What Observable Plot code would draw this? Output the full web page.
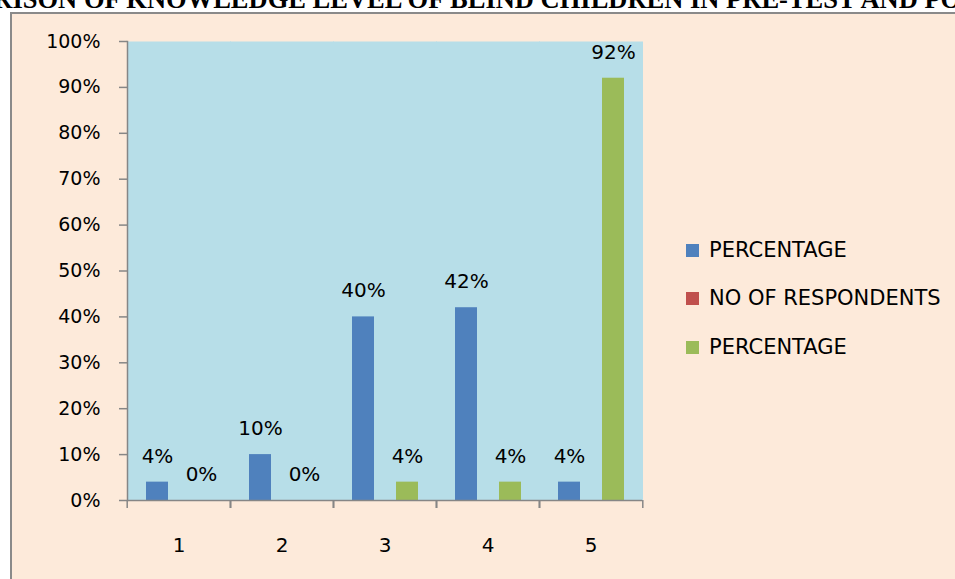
<!DOCTYPE html>
<html>
<head>
<meta charset="utf-8">
<script src="https://cdn.jsdelivr.net/npm/d3@7"></script>
<script src="https://cdn.jsdelivr.net/npm/@observablehq/plot@0.6"></script>
<style>
  html, body { margin: 0; padding: 0; background: #ffffff; }
  body { width: 955px; height: 579px; overflow: hidden; position: relative; font-family: "DejaVu Sans", sans-serif; }
  #title {
    position: absolute; top: -14px; left: calc(50% + 4px); transform: translateX(-50%);
    white-space: nowrap; font-family: "Liberation Serif", "Times New Roman", serif;
    font-weight: bold; font-size: 26.5px; line-height: 26.5px; color: #000;
  }
  #box {
    position: absolute; left: 10px; top: 12px; width: 1000px; height: 620px;
    border: 2px solid #8a8a8a; background: #FDEADA;
  }
  #chart { position: absolute; left: 0; top: 0; }
  #legend { position: absolute; left: 686px; top: 0; }
  .row { position: absolute; left: 0; display: flex; align-items: center; height: 26px; white-space: nowrap;
         font-family: "DejaVu Sans", sans-serif; font-size: 21px; color: #000; }
  .sw { width: 13px; height: 13px; margin-right: 10px; }
</style>
</head>
<body>
<div id="box"></div>
<div id="title">COMPARISON OF KNOWLEDGE LEVEL OF BLIND CHILDREN IN PRE-TEST AND POST-TEST</div>
<div id="chart"></div>
<div id="legend"></div>
<script>
// ---- data ----
const categories = ["1", "2", "3", "4", "5"];
const seriesKeys = ["pre", "resp", "post"];
const seriesLabels = ["PERCENTAGE", "NO OF RESPONDENTS", "PERCENTAGE"];
const seriesColors = ["#4F81BD", "#C0504D", "#9BBB59"];
const preTestPct = [4, 10, 40, 42, 4];
const postTestPct = [0, 0, 4, 4, 92];
const yTicks = [0, 10, 20, 30, 40, 50, 60, 70, 80, 90, 100];

const data = categories.flatMap((c, i) => [
  {cat: c, series: "pre", value: preTestPct[i]},
  {cat: c, series: "post", value: postTestPct[i]}
]);

// ---- layout ----
const W = 660, H = 579, ML = 125, MR = 17, MT = 41, MB = 79;
const step = (W - ML - MR) / categories.length;
const axisGray = "#868686";

const chart = Plot.plot({
  width: W, height: H,
  marginLeft: ML, marginRight: MR, marginTop: MT, marginBottom: MB,
  style: {background: "transparent", fontFamily: "DejaVu Sans", color: "black", overflow: "visible"},
  fx: {domain: categories, padding: 0, axis: null, label: null},
  x: {domain: seriesKeys, paddingInner: 0, paddingOuter: 0.75, axis: null},
  y: {domain: [0, 100], axis: null},
  color: {domain: seriesKeys, range: seriesColors},
  marks: [
    Plot.frame({fill: "#B7DEE8", stroke: "none", insetLeft: -0.5, insetRight: -0.5}),
    Plot.barY(data, {fx: "cat", x: "series", y: "value", fill: "series"}),
    Plot.ruleY([0], {stroke: axisGray, strokeWidth: 1.5}),
    Plot.frame({anchor: "left", facetAnchor: "left", stroke: axisGray, strokeWidth: 1.5}),
    Plot.axisY({ticks: yTicks, tickSize: 8, tickPadding: 19, tickFormat: d => d + "%",
                stroke: axisGray, strokeWidth: 1.5, fill: "black", fontSize: 19, label: null}),
    Plot.axisFx({anchor: "bottom", tickSize: 0, tickPadding: 37, fontSize: 20, fill: "black", label: null}),
    Plot.axisFx({anchor: "bottom", tickSize: 8, tickFormat: () => "", dx: -step / 2,
                 stroke: axisGray, strokeWidth: 1.5, label: null}),
    Plot.axisFx({anchor: "bottom", tickSize: 8, tickFormat: () => "", dx: step / 2,
                 stroke: axisGray, strokeWidth: 1.5, label: null}),
    Plot.text(data, {fx: "cat", x: "series", y: "value", text: d => d.value + "%",
                     dy: -26, fontSize: 20, fill: "black"})
  ]
});
document.getElementById("chart").appendChild(chart);

// ---- legend ----
const legend = document.getElementById("legend");
const rowCenters = [250, 298, 347];
seriesLabels.forEach((lab, i) => {
  const row = document.createElement("div");
  row.className = "row";
  row.style.top = (rowCenters[i] - 13) + "px";
  const sw = document.createElement("span");
  sw.className = "sw";
  sw.style.background = seriesColors[i];
  const t = document.createElement("span");
  t.textContent = lab;
  row.appendChild(sw);
  row.appendChild(t);
  legend.appendChild(row);
});
</script>
</body>
</html>
